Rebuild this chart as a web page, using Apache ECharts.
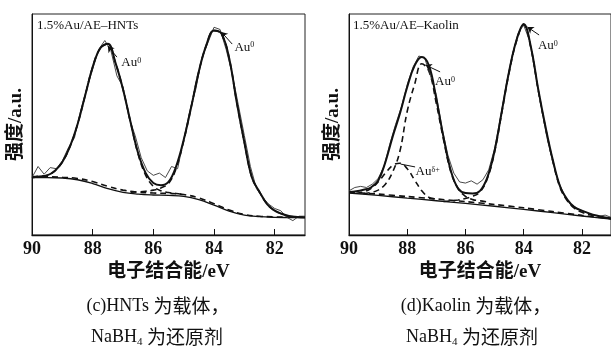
<!DOCTYPE html>
<html>
<head>
<meta charset="utf-8">
<script src="https://cdn.jsdelivr.net/npm/echarts@6.0.0/dist/echarts.min.js"></script>
<style>
html,body{margin:0;padding:0;background:#fff;}
#chart{width:611px;height:351px;}
</style>
</head>
<body>
<div id="chart"></div>
<script>
// ---------- data ----------
const xTickLabels = [90, 88, 86, 84, 82];
const xTicks = [88, 86, 84, 82];

// fitted curves sampled every 0.25 eV
const eFit = [90, 89.75, 89.5, 89.25, 89, 88.75, 88.5, 88.25, 88, 87.75, 87.5, 87.25, 87, 86.75, 86.5, 86.25, 86, 85.75, 85.5, 85.25, 85, 84.75, 84.5, 84.25, 84, 83.75, 83.5, 83.25, 83, 82.75, 82.5, 82.25, 82, 81.75, 81.5, 81.25, 81];
// raw spectra sampled every 0.2 eV
const eRaw = [90, 89.8, 89.6, 89.4, 89.2, 89, 88.8, 88.6, 88.4, 88.2, 88, 87.8, 87.6, 87.4, 87.2, 87, 86.8, 86.6, 86.4, 86.2, 86, 85.8, 85.6, 85.4, 85.2, 85, 84.8, 84.6, 84.4, 84.2, 84, 83.8, 83.6, 83.4, 83.2, 83, 82.8, 82.6, 82.4, 82.2, 82, 81.8, 81.6, 81.4, 81.2, 81];

// (c) HNTs
const hntsRaw = [26, 31, 27.5, 30.5, 30, 33.5, 39.5, 44, 56, 66, 75, 84, 88, 83.5, 72, 67, 53, 45, 35, 29, 27, 28, 26, 31, 30, 43, 56, 66, 80, 87, 94, 93, 84, 73, 59, 45, 31, 21, 17, 14, 12, 11, 8, 6.5, 8.5, 8.5];
const hntsEnv = [26, 26.5, 27, 29, 33, 40, 50, 63, 76, 84.5, 86.5, 78, 66, 51, 37, 28, 23.5, 22.5, 24, 31, 43, 58, 74, 86, 92.5, 91, 80, 60, 42, 26, 19.5, 14, 11, 9.5, 8.5, 8.2, 8];
const eBgH = [90, 89.5, 89, 88.5, 88, 87.5, 87, 86.5, 86, 85.5, 85, 84.5, 84, 83.5, 83, 82.5, 82, 81.5, 81];
const hntsBg = [26, 26, 25.8, 25, 23.3, 21, 19.3, 18.5, 18.1, 17.9, 17.5, 16, 13.5, 10.8, 9, 8.3, 8, 7.9, 7.8];
const hntsBgDash = [26.3, 26.3, 26.1, 25.6, 24.2, 22, 20.3, 19.4, 19, 18.8, 18.3, 16.8, 14.2, 11.3, 9.3, 8.5, 8.2, 8.1, 8];
const eC1H = [90, 89.75, 89.5, 89.25, 89, 88.75, 88.5, 88.25, 88, 87.75, 87.5, 87.25, 87, 86.75, 86.5, 86.25, 86, 85.75, 85.5, 85.25, 85];
const hntsC1 = [26.3, 26.6, 27, 29, 33, 40, 50, 63, 76, 84.5, 86.5, 78, 66, 51, 36.5, 27, 22, 20, 19.2, 18.8, 18.3];
const eC2H = [86.75, 86.5, 86.25, 86, 85.75, 85.5, 85.25, 85, 84.75, 84.5, 84.25, 84, 83.75, 83.5, 83.25, 83, 82.75, 82.5, 82.25, 82, 81.75, 81.5, 81.25, 81];
const hntsC2 = [19.4, 19.5, 19.8, 20.3, 21.3, 23.3, 30, 42.5, 58, 74, 86, 92.5, 91, 80, 60, 42, 26, 19.5, 14, 11, 9.5, 8.5, 8.2, 8];

// (d) Kaolin
const kaoRaw = [20, 21.5, 22, 21.5, 23, 25.5, 31, 41, 50, 58, 68, 76, 81, 80, 72, 63.5, 48, 36, 28, 24, 23.5, 24.5, 23, 25, 29.5, 39, 53, 68, 81, 91, 95, 88, 73, 58, 44, 33, 24, 18, 14, 12.5, 11, 10, 9, 8.5, 9, 8];
const kaoEnv = [19.5, 19.8, 20.5, 21.5, 24.5, 33, 44.5, 55, 67, 76.5, 80.5, 76.5, 61.5, 44, 29, 21, 19, 18.8, 20, 26, 38, 56, 74, 88, 95.5, 85, 66, 49, 34, 22, 16, 12.5, 11, 9.8, 8.8, 8, 7.5];
const eBgK = [90, 89, 88, 87, 86, 85, 84, 83, 82, 81];
const kaoBg = [19, 17.9, 16.7, 15.5, 14.3, 13, 11.6, 10.1, 8.6, 7.2];
const kaoBgDash = [19.4, 18.5, 17.4, 16.3, 15.1, 13.8, 12.3, 10.6, 8.9, 7.4];
const eDeltaK = [89.75, 89.5, 89.25, 89, 88.75, 88.5, 88.25, 88, 87.75, 87.5, 87.25, 87];
const kaoDelta = [18.9, 19.5, 21, 24, 28, 31.5, 32.5, 30, 25, 20, 17, 16.3];
const eC1K = [89.5, 89.25, 89, 88.75, 88.5, 88.25, 88, 87.75, 87.5, 87.25, 87, 86.75, 86.5, 86.25, 86, 85.75, 85.5, 85.25];
const kaoC1 = [18.8, 19.2, 20.3, 23, 28.5, 38, 56, 68, 77.5, 74, 59.5, 43, 28.5, 21, 17.5, 16, 15.5, 15];
const eC2K = [86.75, 86.5, 86.25, 86, 85.75, 85.5, 85.25, 85, 84.75, 84.5, 84.25, 84, 83.75, 83.5, 83.25, 83, 82.75, 82.5, 82.25, 82, 81.75, 81.5, 81.25, 81];
const kaoC2 = [15.2, 15.4, 15.8, 16.5, 17.5, 19.5, 25.5, 37.5, 55.5, 73.5, 87.5, 95, 84.5, 65.5, 48.5, 33.5, 21.5, 15.5, 12, 10.3, 9.3, 8.5, 7.9, 7.5];

// annotations (data coordinates): label anchor, leader start, leader end
const annHNTs = [
  { text: 'Au{p|0}', at: [86.73, 77.8], from: [87.2, 80.5], to: [87.5, 85.5], arrow: true },
  { text: 'Au{p|0}', at: [83.0, 85], from: [83.4, 86.4], to: [83.76, 91.9], arrow: true }
];
const annKao = [
  { text: 'Au{p|0}', at: [83.17, 85.5], from: [83.47, 90.5], to: [83.87, 94.1], arrow: true },
  { text: 'Au{p|0}', at: [86.7, 69.2], from: [86.87, 73.8], to: [87.37, 76.9], arrow: true },
  { text: 'Au{p|δ+}', at: [87.3, 28.5], from: [87.73, 30.8], to: [88.23, 32.1], arrow: false }
];

const sampleNames = ['1.5%Au/AE–HNTs', '1.5%Au/AE–Kaolin'];
const captions1 = ['(c)HNTs {c|为载体，}', '(d)Kaolin {c|为载体，}'];
const caption2 = 'NaBH{s|4} {c|为还原剂}';
const xName = '电子结合能/eV';
const yName = '强度/a.u.';

// ---------- build ----------
const zip = (xs, ys) => xs.map((x, i) => [x, ys[i]]);
const INK = '#111';
const SERIF = '"Liberation Serif", "Noto Sans CJK SC", serif';
const MIXED = '"Liberation Serif", "Noto Sans CJK SC", sans-serif';
const CJK = '"Noto Sans CJK SC", sans-serif';

function line(idx, data, opts) {
  return Object.assign({
    type: 'line', xAxisIndex: idx, yAxisIndex: idx, data: data,
    showSymbol: false, symbol: 'none', silent: true, animation: false,
    lineStyle: { color: INK, width: 1.4 }
  }, opts);
}
const dashed = { color: INK, width: 1.6, type: [6, 4] };

function annSeries(idx, anns) {
  return {
    type: 'scatter', xAxisIndex: idx, yAxisIndex: idx, data: [], silent: true, animation: false,
    markPoint: {
      symbol: 'circle', symbolSize: 1, itemStyle: { color: 'rgba(0,0,0,0)' }, animation: false,
      label: {
        show: true, position: 'inside', color: INK, fontFamily: SERIF, fontSize: 13,
        formatter: p => p.name,
        rich: { p: { fontSize: 8, verticalAlign: 'top', fontFamily: SERIF, color: INK, lineHeight: 8 } }
      },
      data: anns.map(a => ({ name: a.text, coord: a.at }))
    },
    markLine: {
      silent: true, animation: false, symbolSize: 6,
      label: { show: false },
      lineStyle: { color: INK, width: 1, type: 'solid' },
      data: anns.map(a => [
        { coord: a.from, symbol: 'none' },
        { coord: a.to, symbol: a.arrow ? 'arrow' : 'none' }
      ])
    }
  };
}

function xAxis(idx) {
  return {
    type: 'value', gridIndex: idx, min: 81, max: 90, inverse: true,
    name: xName, nameLocation: 'middle', nameGap: 28,
    nameTextStyle: { fontSize: 19, fontWeight: 'bold', fontFamily: MIXED, color: INK },
    axisLine: { show: true, lineStyle: { color: INK, width: 1.3 } },
    axisTick: { show: true, inside: true, length: 6, customValues: xTicks, lineStyle: { color: INK, width: 1 } },
    axisLabel: { show: true, customValues: xTickLabels, fontSize: 18, fontWeight: 'bold', fontFamily: SERIF, color: INK, margin: 5 },
    splitLine: { show: false }
  };
}
function yAxis(idx) {
  return {
    type: 'value', gridIndex: idx, min: 0, max: 100,
    name: yName, nameLocation: 'middle', nameGap: 6,
    nameTextStyle: { fontSize: 19, fontWeight: 'bold', fontFamily: MIXED, color: INK },
    axisLine: { show: true, lineStyle: { color: INK, width: 1 } },
    axisTick: { show: false }, axisLabel: { show: false }, splitLine: { show: false }
  };
}

const capRich = {
  c: { fontSize: 19, fontFamily: CJK, fill: INK, verticalAlign: 'middle', lineHeight: 22 },
  s: { fontSize: 11, verticalAlign: 'bottom', lineHeight: 11, fontFamily: SERIF, fill: INK }
};
function caption(x, y, text) {
  return { type: 'text', x: x, y: y, silent: true,
    style: { text: text, fontSize: 18, fontFamily: SERIF, fill: INK, align: 'center', verticalAlign: 'middle', lineHeight: 22, rich: capRich } };
}

const chart = echarts.init(document.getElementById('chart'), null, { renderer: 'canvas' });
const option = {
  backgroundColor: '#fff',
  animation: false,
  grid: [
    { left: 32, right: 306, top: 14, bottom: 116, show: true, borderColor: '#222', borderWidth: 1 },
    { left: 349, right: -8, top: 14, bottom: 116, show: true, borderColor: '#222', borderWidth: 1 }
  ],
  xAxis: [xAxis(0), xAxis(1)],
  yAxis: [yAxis(0), yAxis(1)],
  series: [
    line(0, zip(eBgH, hntsBg), { smooth: 0.4, lineStyle: { color: INK, width: 1.3 } }),
    line(0, zip(eBgH, hntsBgDash), { smooth: 0.4, lineStyle: dashed }),
    line(0, zip(eC1H, hntsC1), { smooth: 0.4, lineStyle: dashed }),
    line(0, zip(eC2H, hntsC2), { smooth: 0.4, lineStyle: dashed }),
    line(0, zip(eRaw, hntsRaw), { lineStyle: { color: '#333', width: 0.9 } }),
    line(0, zip(eFit, hntsEnv), { smooth: 0.4, lineStyle: { color: INK, width: 2 } }),
    annSeries(0, annHNTs),

    line(1, zip(eBgK, kaoBg), { smooth: 0.3, lineStyle: { color: INK, width: 1.3 } }),
    line(1, zip(eBgK, kaoBgDash), { smooth: 0.3, lineStyle: dashed }),
    line(1, zip(eDeltaK, kaoDelta), { smooth: 0.4, lineStyle: dashed }),
    line(1, zip(eC1K, kaoC1), { smooth: 0.4, lineStyle: dashed }),
    line(1, zip(eC2K, kaoC2), { smooth: 0.4, lineStyle: dashed }),
    line(1, zip(eRaw, kaoRaw), { lineStyle: { color: '#333', width: 0.9 } }),
    line(1, zip(eFit, kaoEnv), { smooth: 0.4, lineStyle: { color: INK, width: 2 } }),
    annSeries(1, annKao)
  ],
  graphic: [
    { type: 'text', x: 37, y: 26, silent: true, style: { text: sampleNames[0], fontSize: 13, fontFamily: SERIF, fill: INK, align: 'left', verticalAlign: 'middle' } },
    { type: 'text', x: 353, y: 26, silent: true, style: { text: sampleNames[1], fontSize: 13, fontFamily: SERIF, fill: INK, align: 'left', verticalAlign: 'middle' } },
    caption(158, 306, captions1[0]),
    caption(476, 306, captions1[1]),
    caption(157, 337, caption2),
    caption(472, 337, caption2)
  ]
};
chart.setOption(option);
</script>
</body>
</html>
